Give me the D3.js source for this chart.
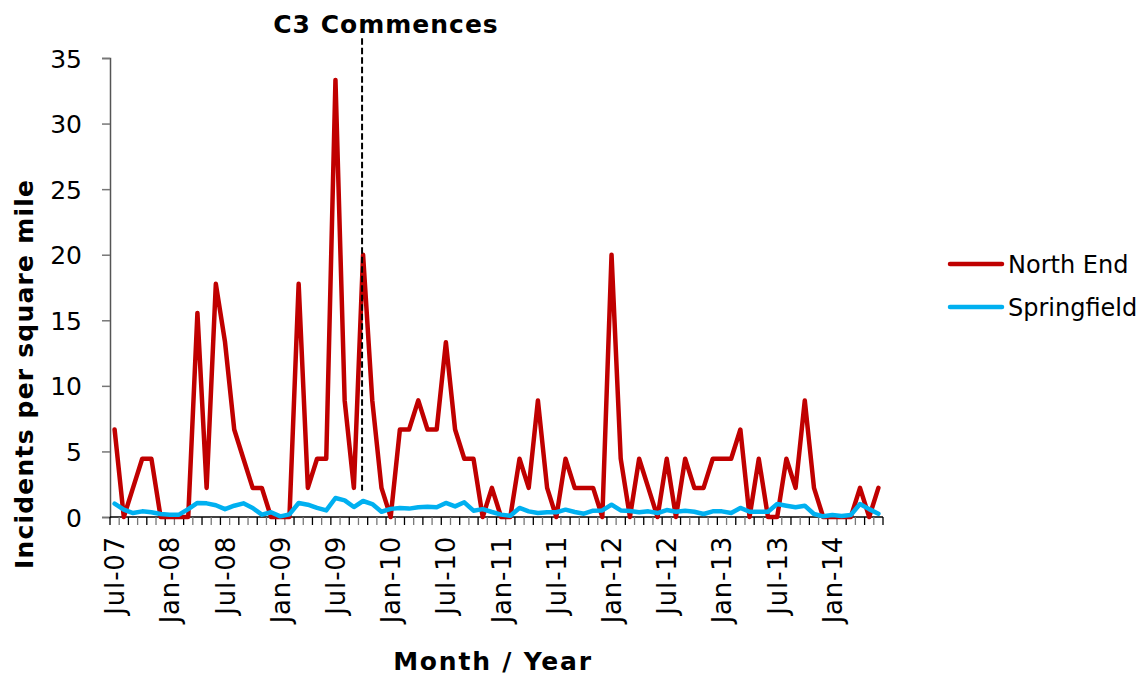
<!DOCTYPE html>
<html lang="en">
<head>
  <meta charset="UTF-8" />
  <title>Incidents per square mile</title>
  <script src="https://d3js.org/d3.v7.min.js"></script>
  <style>
    body { margin: 0; background: #fff; font-family: "DejaVu Sans", Verdana, sans-serif; }
    svg { display: block; }
    .tick-label { font-size: 25px; fill: #000; }
    .x-label { font-size: 26px; fill: #000; }
    .title { font-size: 25px; font-weight: bold; fill: #000; }
    .legend text { font-size: 24px; fill: #000; }
  </style>
</head>
<body>
  <svg id="chart"></svg>
  <script>
    // Monthly values, Jul-07 .. Jun-14 (84 months)
    const northEnd = [
      6.67, 0, 2.22, 4.44, 4.44, 0, 0, 0, 0, 15.56, 2.22, 17.78,
      13.33, 6.67, 4.44, 2.22, 2.22, 0, 0, 0, 17.78, 2.22, 4.44, 4.44,
      33.33, 8.89, 2.22, 20, 8.89, 2.22, 0, 6.67, 6.67, 8.89, 6.67, 6.67,
      13.33, 6.67, 4.44, 4.44, 0, 2.22, 0, 0, 4.44, 2.22, 8.89, 2.22,
      0, 4.44, 2.22, 2.22, 2.22, 0, 20, 4.44, 0, 4.44, 2.22, 0,
      4.44, 0, 4.44, 2.22, 2.22, 4.44, 4.44, 4.44, 6.67, 0, 4.44, 0,
      0, 4.44, 2.22, 8.89, 2.22, 0, 0, 0, 0, 2.22, 0, 2.22
    ];
    const springfield = [
      1.02, 0.56, 0.3, 0.43, 0.36, 0.23, 0.18, 0.18, 0.6, 1.07, 1.04, 0.9,
      0.6, 0.86, 1.04, 0.69, 0.18, 0.36, 0.05, 0.2, 1.07, 0.94, 0.69, 0.5,
      1.45, 1.27, 0.76, 1.22, 0.99, 0.4, 0.62, 0.69, 0.64, 0.74, 0.79, 0.74,
      1.07, 0.81, 1.12, 0.48, 0.6, 0.38, 0.18, 0.1, 0.69, 0.43, 0.3, 0.36,
      0.36, 0.56, 0.38, 0.25, 0.48, 0.5, 0.94, 0.5, 0.46, 0.36, 0.43, 0.3,
      0.53, 0.4, 0.48, 0.4, 0.23, 0.43, 0.43, 0.3, 0.69, 0.4, 0.4, 0.4,
      0.99, 0.86, 0.74, 0.86, 0.23, 0.05, 0.15, 0.08, 0.15, 0.99, 0.6, 0.25
    ];
    const seriesNames = ["North End", "Springfield"];
    const seriesColors = ["#C00000", "#00B0F0"];
    // every 6th month is labelled
    const tickLabels = ["Jul-07", "Jan-08", "Jul-08", "Jan-09", "Jul-09", "Jan-10", "Jul-10",
      "Jan-11", "Jul-11", "Jan-12", "Jul-12", "Jan-13", "Jul-13", "Jan-14"];
    const yTicks = [0, 5, 10, 15, 20, 25, 30, 35];
    const eventIndex = 27; // Oct-09
    const eventLabel = "C3 Commences";

    const width = 1141, height = 675;
    const svg = d3.select("#chart").attr("width", width).attr("height", height);

    const months = d3.range(northEnd.length);
    const x = d3.scaleBand().domain(months).range([110, 883]).padding(0);
    const cx = i => x(i) + x.bandwidth() / 2;
    const y = d3.scaleLinear().domain([0, 35]).range([517, 58]);

    // y axis
    const yAxis = svg.append("g")
      .attr("transform", `translate(${x.range()[0]},0)`)
      .call(d3.axisLeft(y).tickValues(yTicks).tickSize(8).tickPadding(20));
    yAxis.select(".domain").attr("stroke", "#555").attr("stroke-width", 1.5);
    yAxis.selectAll(".tick line").attr("stroke", "#777").attr("stroke-width", 1.5);
    yAxis.selectAll(".tick text").attr("class", "tick-label")
      .style("font-family", "DejaVu Sans, Verdana, sans-serif").attr("dy", "0.36em");

    // x axis: ticks between categories, labels every 6 months
    const xAxis = svg.append("g");
    xAxis.append("line")
      .attr("x1", x.range()[0]).attr("x2", x.range()[1])
      .attr("y1", y(0)).attr("y2", y(0))
      .attr("stroke", "#000").attr("stroke-width", 1.5);
    xAxis.selectAll("line.tk")
      .data(d3.range(months.length + 1))
      .join("line")
      .attr("class", "tk")
      .attr("x1", i => x.range()[0] + i * x.bandwidth())
      .attr("x2", i => x.range()[0] + i * x.bandwidth())
      .attr("y1", y(0)).attr("y2", y(0) + 8)
      .attr("stroke", (i) => i % 2 ? "#777" : "#000")
      .attr("stroke-width", 1.3);
    xAxis.selectAll("text")
      .data(tickLabels)
      .join("text")
      .attr("class", "x-label")
      .attr("text-anchor", "end")
      .attr("letter-spacing", 0.8)
      .attr("transform", (d, k) => `translate(${cx(k * 6) + 9.5},${y(0) + 19}) rotate(-90)`)
      .text(d => d);

    // lines
    const line = d3.line().x((d, i) => cx(i)).y(d => y(d));
    [northEnd, springfield].forEach((vals, s) => {
      svg.append("path")
        .datum(vals)
        .attr("fill", "none")
        .attr("stroke", seriesColors[s])
        .attr("stroke-width", 4.5)
        .attr("stroke-linejoin", "round")
        .attr("stroke-linecap", "round")
        .attr("d", line);
    });

    // event marker
    svg.append("line")
      .attr("x1", cx(eventIndex) - 1).attr("x2", cx(eventIndex) - 1)
      .attr("y1", y(36.5)).attr("y2", y(2))
      .attr("stroke", "#000").attr("stroke-width", 2)
      .attr("stroke-dasharray", "6.5,3");
    svg.append("text")
      .attr("class", "title")
      .attr("x", 386).attr("y", 33)
      .attr("text-anchor", "middle")
      .attr("letter-spacing", 1)
      .text(eventLabel);

    // axis titles
    svg.append("text")
      .attr("class", "title")
      .attr("text-anchor", "middle")
      .attr("letter-spacing", 1.2)
      .attr("transform", "translate(33,374) rotate(-90)")
      .text("Incidents per square mile");
    svg.append("text")
      .attr("class", "title")
      .attr("x", 493).attr("y", 670)
      .attr("text-anchor", "middle")
      .attr("letter-spacing", 1.8)
      .text("Month / Year");

    // legend
    const legend = svg.append("g").attr("class", "legend");
    seriesNames.forEach((name, s) => {
      const ly = 264 + s * 43;
      legend.append("line")
        .attr("x1", 950).attr("x2", 1002).attr("y1", ly).attr("y2", ly)
        .attr("stroke", seriesColors[s]).attr("stroke-width", 4.5)
        .attr("stroke-linecap", "round");
      legend.append("text")
        .attr("x", 1008).attr("y", ly).attr("dy", "0.36em")
        .text(name);
    });
  </script>
</body>
</html>
